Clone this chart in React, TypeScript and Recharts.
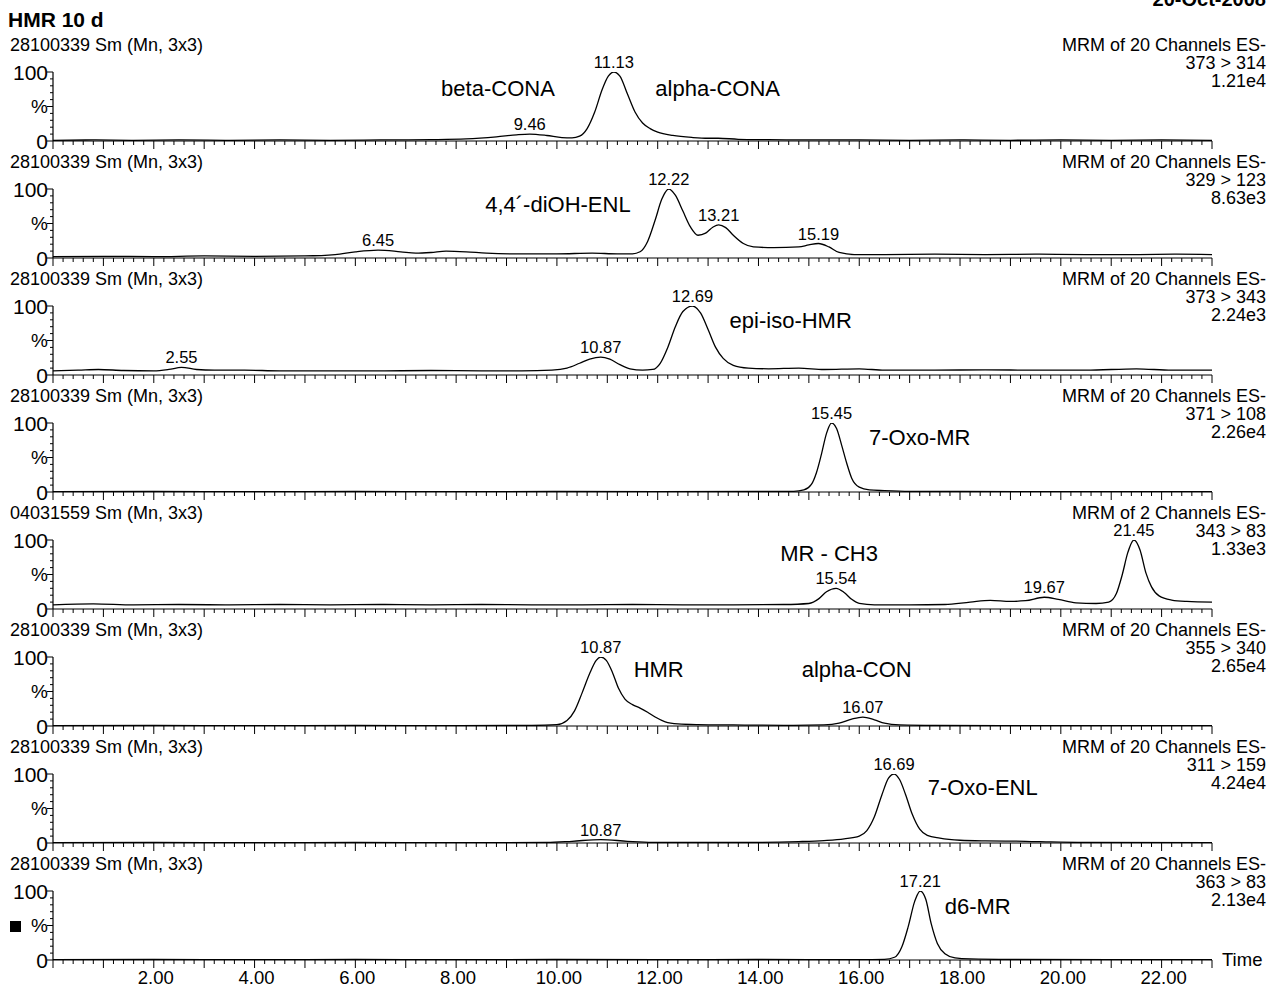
import React from "react";
import { LineChart, Line, XAxis, YAxis, ReferenceDot } from "recharts";

const FONT = '"Liberation Sans", Arial, Helvetica, sans-serif';

type Pt = [number, number];

// traces: [time (min), relative intensity (%)]
const cona373: Pt[] = [
  [0, 1], [0.8, 1.5], [1.6, 1], [2.5, 1.5], [3.5, 1], [4.5, 1.5], [5.5, 1], [6.5, 1.5], [7.5, 2],
  [8.2, 3], [8.8, 6], [9.2, 9], [9.46, 10], [9.8, 8], [10.1, 5], [10.3, 4.5], [10.45, 7], [10.6, 18],
  [10.75, 42], [10.9, 75], [11.02, 94], [11.13, 100], [11.25, 94], [11.4, 68], [11.55, 42], [11.7, 26],
  [11.85, 18], [12.0, 13], [12.3, 8], [12.7, 5], [13.0, 4], [13.2, 4], [13.6, 2.5], [14.2, 2], [15, 1.5],
  [16, 1.5], [17, 1], [18, 1.5], [19, 1], [20, 1.5], [21, 1], [22, 1.5], [23, 1],
];

const enl329: Pt[] = [
  [0, 2], [1, 2.5], [2, 2], [3, 3], [4, 2.5], [5, 3], [5.6, 5], [6.0, 9], [6.45, 11.5], [6.9, 9],
  [7.2, 7], [7.5, 8], [7.8, 10], [8.2, 9], [8.6, 7], [9.2, 6], [10, 6], [10.7, 7], [11.2, 6], [11.5, 6],
  [11.65, 9], [11.8, 24], [11.95, 55], [12.08, 85], [12.22, 100], [12.35, 91], [12.5, 68], [12.65, 45],
  [12.8, 33], [12.95, 36], [13.1, 45], [13.21, 48], [13.35, 44], [13.5, 33], [13.7, 21], [13.9, 16],
  [14.3, 15], [14.8, 16], [15.0, 19], [15.19, 21], [15.4, 16], [15.6, 8], [15.9, 5], [16.5, 5],
  [17.5, 5.5], [18.5, 5], [19.5, 5.5], [20.5, 5], [21.5, 5], [22.3, 5.5], [23, 5],
];

const hmr373: Pt[] = [
  [0, 6], [0.5, 7], [0.9, 8], [1.4, 6.5], [2.0, 6], [2.3, 8], [2.55, 11], [2.85, 8], [3.2, 7], [3.8, 7],
  [4.5, 6], [5.5, 6], [6.5, 6], [7.5, 6.5], [8.5, 6], [9.3, 6], [9.9, 7], [10.2, 10], [10.45, 17],
  [10.65, 23], [10.87, 26], [11.05, 23], [11.25, 15], [11.45, 9], [11.7, 7], [11.9, 8], [12.05, 17],
  [12.2, 40], [12.35, 70], [12.5, 92], [12.69, 100], [12.85, 90], [13.0, 66], [13.15, 40], [13.3, 24],
  [13.5, 14], [13.8, 10], [14.2, 9], [14.8, 10], [15.3, 8], [16.0, 9], [16.5, 7], [17.5, 7], [18.5, 7.5],
  [19.5, 7], [20.5, 7], [21.5, 9], [22.2, 7], [23, 7],
];

const oxoMr371: Pt[] = [
  [0, 0.5], [2, 0.8], [4, 0.5], [6, 0.8], [8, 0.5], [10, 0.8], [12, 0.5], [14, 0.8], [14.7, 1],
  [14.9, 3], [15.05, 11], [15.15, 28], [15.25, 55], [15.35, 85], [15.45, 100], [15.55, 92], [15.65, 68],
  [15.75, 42], [15.85, 20], [16.0, 7], [16.2, 3], [16.5, 2], [17, 1], [18, 0.8], [20, 0.5], [23, 0.5],
];

const mr343: Pt[] = [
  [0, 6], [0.8, 7.5], [1.6, 6], [2.5, 6.5], [3.5, 6], [4.5, 6.5], [5.5, 6], [6.5, 6.5], [7.5, 6],
  [8.5, 6.5], [9.5, 6], [10.5, 6], [11.5, 6.5], [12.5, 6], [13.5, 6], [14.5, 6.5], [15.0, 8], [15.2, 15],
  [15.35, 25], [15.54, 30], [15.7, 24], [15.85, 14], [16.0, 8], [16.3, 6], [17, 6], [17.7, 6.5],
  [18.2, 10], [18.6, 12.5], [19.0, 11], [19.3, 12], [19.67, 17], [19.95, 14], [20.3, 9], [20.7, 8],
  [20.95, 10], [21.1, 22], [21.22, 50], [21.33, 82], [21.45, 100], [21.57, 86], [21.69, 52], [21.8, 32],
  [21.95, 19], [22.2, 13], [22.5, 11], [23, 10],
];

const hmr355: Pt[] = [
  [0, 0.5], [2, 0.8], [4, 0.5], [6, 0.8], [8, 0.5], [9.5, 0.8], [10.0, 2], [10.2, 8], [10.35, 22],
  [10.5, 48], [10.65, 76], [10.78, 95], [10.87, 100], [10.98, 95], [11.1, 78], [11.22, 55], [11.35, 39],
  [11.5, 31], [11.65, 26], [11.8, 20], [11.95, 13], [12.15, 6], [12.4, 3], [12.8, 2], [13.5, 1.5],
  [14.5, 1], [15.3, 1.5], [15.6, 4], [15.85, 10], [16.07, 13], [16.3, 9], [16.5, 4], [16.8, 1.5],
  [17.5, 0.8], [20, 0.5], [23, 0.5],
];

const oxoEnl311: Pt[] = [
  [0, 0.5], [2, 0.8], [4, 0.5], [6, 0.8], [8, 0.5], [9.8, 0.8], [10.3, 2.5], [10.87, 5], [11.4, 2.5],
  [11.9, 1], [13, 1], [14, 1], [14.8, 2], [15.3, 3.5], [15.7, 6], [16.0, 10], [16.15, 18], [16.3, 38],
  [16.45, 70], [16.58, 94], [16.69, 100], [16.8, 92], [16.92, 70], [17.05, 42], [17.2, 20], [17.35, 11],
  [17.6, 7], [18.0, 4], [18.5, 3], [19.3, 2.5], [19.8, 1.5], [20.5, 0.8], [23, 0.5],
];

const d6Mr363: Pt[] = [
  [0, 0.5], [2, 0.8], [4, 0.5], [6, 0.8], [8, 0.5], [10, 0.8], [12, 0.5], [14, 0.8], [16, 0.5],
  [16.5, 1], [16.7, 4], [16.85, 20], [16.97, 48], [17.1, 85], [17.21, 100], [17.32, 88], [17.43, 52],
  [17.55, 24], [17.7, 9], [17.9, 3], [18.2, 1.5], [19, 0.8], [21, 0.5], [23, 0.5],
];

const traces = [cona373, enl329, hmr373, oxoMr371, mr343, hmr355, oxoEnl311, d6Mr363];

const fileLabels = [
  "28100339 Sm (Mn, 3x3)", "28100339 Sm (Mn, 3x3)", "28100339 Sm (Mn, 3x3)", "28100339 Sm (Mn, 3x3)",
  "04031559 Sm (Mn, 3x3)", "28100339 Sm (Mn, 3x3)", "28100339 Sm (Mn, 3x3)", "28100339 Sm (Mn, 3x3)",
];
const mrmLabels = [
  "MRM of 20 Channels ES-", "MRM of 20 Channels ES-", "MRM of 20 Channels ES-", "MRM of 20 Channels ES-",
  "MRM of 2 Channels ES-", "MRM of 20 Channels ES-", "MRM of 20 Channels ES-", "MRM of 20 Channels ES-",
];
const transitions = ["373 > 314", "329 > 123", "373 > 343", "371 > 108", "343 > 83", "355 > 340", "311 > 159", "363 > 83"];
const intensities = ["1.21e4", "8.63e3", "2.24e3", "2.26e4", "1.33e3", "2.65e4", "4.24e4", "2.13e4"];

const peakTimes = [
  [9.46, 11.13],
  [6.45, 12.22, 13.21, 15.19],
  [2.55, 10.87, 12.69],
  [15.45],
  [15.54, 19.67, 21.45],
  [10.87, 16.07],
  [10.87, 16.69],
  [17.21],
];

const compoundNames = [
  ["beta-CONA", "alpha-CONA"],
  ["4,4\u00b4-diOH-ENL"],
  ["epi-iso-HMR"],
  ["7-Oxo-MR"],
  ["MR - CH3"],
  ["HMR", "alpha-CON"],
  ["7-Oxo-ENL"],
  ["d6-MR"],
];
// where each compound name sits, in [time, %]
const compoundAnchors: Pt[][] = [
  [[8.83, 77], [13.19, 77]],
  [[10.02, 78]],
  [[14.64, 80]],
  [[17.2, 80]],
  [[15.4, 81]],
  [[12.02, 83], [15.95, 83]],
  [[18.45, 81]],
  [[18.35, 78]],
];

const xLabelTimes = [2, 4, 6, 8, 10, 12, 14, 16, 18, 20, 22];
const xTickLabels = ["2.00", "4.00", "6.00", "8.00", "10.00", "12.00", "14.00", "16.00", "18.00", "20.00", "22.00"];
const yLabelValues = [0, 50, 100];
const yTickLabels = ["0", "%", "100"];

const X_MAX = 23;
const minorTicks = Array.from({ length: 116 }, (_, i) => Math.round(i * 2) / 10);
const yTicks = [0, 10, 20, 30, 40, 50, 60, 70, 80, 90, 100];

const STEP = 117;
const TOP0 = 72;
const MT = 30;
const MB = 21;
const PLOT_H = 69;
const HEAD = 18;

function XTick(props: any) {
  const { x, y, payload, showLabels } = props;
  const v = payload.value as number;
  const major = Math.abs(v - Math.round(v)) < 1e-6;
  const idx = xLabelTimes.findIndex((t) => Math.abs(t - v) < 1e-6);
  return (
    <g>
      <line x1={x} x2={x} y1={y} y2={y + (major ? 8 : 4)} stroke="#000" strokeWidth={1} />
      {showLabels && idx >= 0 && (
        <text x={x + 2} y={y + 24} textAnchor="middle" fontSize={18.5} fontFamily={FONT} fill="#000">
          {xTickLabels[idx]}
        </text>
      )}
    </g>
  );
}

function YTick(props: any) {
  const { x, y, payload } = props;
  const v = payload.value as number;
  const idx = yLabelValues.indexOf(v);
  const major = idx >= 0;
  return (
    <g>
      <line x1={x - (major ? 6 : 3)} x2={x} y1={y} y2={y} stroke="#000" strokeWidth={1} />
      {major && (
        <text
          x={x - 5}
          y={y}
          dy="0.36em"
          textAnchor="end"
          fontSize={v === 50 ? 19 : 21}
          fontFamily={FONT}
          fill="#000"
        >
          {yTickLabels[idx]}
        </text>
      )}
    </g>
  );
}

function Panel({ index }: { index: number }) {
  const last = index === traces.length - 1;
  const mb = last ? 51 : MB;
  const data = traces[index].map(([t, v]) => ({ t, v }));
  return (
    <div style={{ position: "absolute", left: 0, top: TOP0 + STEP * index - MT }}>
      <LineChart
        width={1278}
        height={MT + PLOT_H + 1 + mb}
        data={data}
        margin={{ top: MT, right: 66, bottom: mb, left: 52 }}
      >
        <XAxis
          dataKey="t"
          type="number"
          domain={[0, X_MAX]}
          ticks={minorTicks}
          interval={0}
          height={1}
          tickSize={0}
          tickMargin={0}
          tickLine={false}
          axisLine={{ stroke: "#000", strokeWidth: 1.2 }}
          tick={<XTick showLabels={last} />}
          allowDataOverflow
        />
        <YAxis
          type="number"
          domain={[0, 100]}
          ticks={yTicks}
          interval={0}
          width={1}
          tickSize={0}
          tickMargin={0}
          tickLine={false}
          axisLine={{ stroke: "#000", strokeWidth: 1.2 }}
          tick={<YTick />}
          allowDataOverflow
        />
        <Line
          dataKey="v"
          type="monotone"
          stroke="#000"
          strokeWidth={1.3}
          dot={false}
          activeDot={false}
          isAnimationActive={false}
        />
        {peakTimes[index].map((pt) => {
          const hit = traces[index].find(([t]) => Math.abs(t - pt) < 1e-6);
          return (
            <ReferenceDot
              key={"p" + pt}
              x={pt}
              y={hit ? hit[1] : 0}
              r={0}
              fill="none"
              stroke="none"
              label={{ value: pt.toFixed(2), position: "top", offset: 4, fontSize: 16.5, fill: "#000", fontFamily: FONT }}
            />
          );
        })}
        {compoundNames[index].map((name, k) => (
          <ReferenceDot
            key={name}
            x={compoundAnchors[index][k][0]}
            y={compoundAnchors[index][k][1]}
            r={0}
            fill="none"
            stroke="none"
            label={{ value: name, position: "center", fontSize: 22, fill: "#000", fontFamily: FONT }}
          />
        ))}
      </LineChart>
    </div>
  );
}

export default function App() {
  return (
    <div style={{ position: "absolute", left: 0, top: 0, width: 1278, height: 989, background: "#fff", overflow: "hidden" }}>
      {traces.map((_, i) => (
        <Panel key={i} index={i} />
      ))}
      <svg width={1278} height={989} style={{ position: "absolute", left: 0, top: 0, pointerEvents: "none" }} fontFamily={FONT}>
        <text x={8} y={27} fontSize={21} fontWeight="bold" fill="#000">HMR 10 d</text>
        <text x={1266} y={6} fontSize={20} fontWeight="bold" fill="#000" textAnchor="end">20-Oct-2008</text>
        {fileLabels.map((f, i) => (
          <g key={i}>
            <text x={10} y={51 + STEP * i} fontSize={HEAD} fill="#000">{f}</text>
            <text x={1266} y={51 + STEP * i} fontSize={HEAD} fill="#000" textAnchor="end">{mrmLabels[i]}</text>
            <text x={1266} y={69 + STEP * i} fontSize={HEAD} fill="#000" textAnchor="end">{transitions[i]}</text>
            <text x={1266} y={87 + STEP * i} fontSize={HEAD} fill="#000" textAnchor="end">{intensities[i]}</text>
          </g>
        ))}
        <rect x={10} y={921} width={11} height={11} fill="#000" />
        <text x={1222} y={966} fontSize={18.5} fill="#000">Time</text>
      </svg>
    </div>
  );
}
